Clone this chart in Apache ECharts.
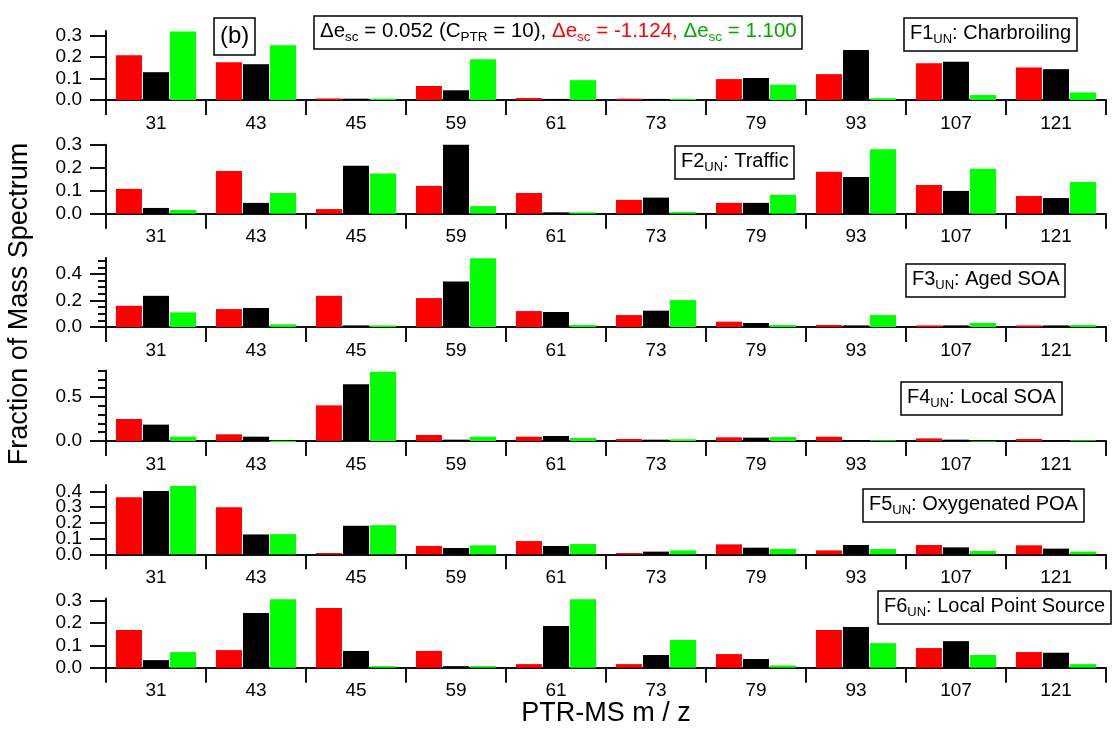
<!DOCTYPE html>
<html>
<head>
<meta charset="utf-8">
<script src="https://cdn.jsdelivr.net/npm/echarts@6/dist/echarts.min.js"></script>
<style>
html,body{margin:0;padding:0;background:#fff;}
#chart{width:1117px;height:730px;}
</style>
</head>
<body>
<div id="chart"></div>
<script>
// ---- data ----
const categories = ['31','43','45','59','61','73','79','93','107','121'];

const f1Red   = [0.208,0.175,0.007,0.065,0.009,0.006,0.097,0.120,0.171,0.151];
const f1Black = [0.129,0.166,0.006,0.045,0.005,0.005,0.102,0.232,0.177,0.143];
const f1Green = [0.318,0.254,0.006,0.189,0.092,0.005,0.071,0.008,0.023,0.035];

const f2Red   = [0.108,0.186,0.020,0.121,0.090,0.060,0.047,0.182,0.125,0.077];
const f2Black = [0.025,0.047,0.208,0.300,0.006,0.070,0.047,0.160,0.099,0.068];
const f2Green = [0.016,0.090,0.175,0.033,0.006,0.007,0.082,0.280,0.195,0.138];

const f3Red   = [0.160,0.135,0.235,0.218,0.120,0.090,0.040,0.015,0.012,0.012];
const f3Black = [0.235,0.143,0.012,0.343,0.113,0.123,0.030,0.012,0.012,0.012];
const f3Green = [0.110,0.020,0.012,0.518,0.015,0.203,0.015,0.090,0.030,0.015];

const f4Red   = [0.250,0.076,0.405,0.068,0.049,0.023,0.042,0.049,0.030,0.023];
const f4Black = [0.186,0.049,0.644,0.015,0.057,0.015,0.038,0.008,0.015,0.008];
const f4Green = [0.049,-0.012,0.788,0.049,0.034,0.019,0.045,0.008,-0.006,0.008];

const f5Red   = [0.362,0.299,0.008,0.053,0.084,0.008,0.063,0.025,0.059,0.057];
const f5Black = [0.402,0.126,0.181,0.040,0.053,0.017,0.042,0.059,0.044,0.036];
const f5Green = [0.434,0.128,0.185,0.057,0.065,0.025,0.034,0.034,0.021,0.017];

const f6Red   = [0.169,0.079,0.267,0.075,0.016,0.016,0.061,0.169,0.088,0.070];
const f6Black = [0.034,0.245,0.075,0.007,0.187,0.057,0.039,0.182,0.119,0.067];
const f6Green = [0.070,0.307,0.007,0.007,0.307,0.124,0.010,0.110,0.057,0.016];

// y tick labels (major) and minor tick values per panel
const f1Ticks = [0,0.1,0.2,0.3];
const f2Ticks = [0,0.1,0.2,0.3];
const f3Ticks = [0,0.2,0.4];
const f4Ticks = [0,0.5];
const f5Ticks = [0,0.1,0.2,0.3,0.4];
const f6Ticks = [0,0.1,0.2,0.3];
const f3Minor = [0.05,0.1,0.15,0.25,0.3,0.35,0.45,0.5];
const f4Minor = [0.1,0.2,0.3,0.4,0.6,0.7,0.8];

const yMax = [0.32,0.30,0.52,0.80,0.44,0.31];
const factorLabels = [
  '{n|F1}{s|UN}{n|: Charbroiling}',
  '{n|F2}{s|UN}{n|: Traffic}',
  '{n|F3}{s|UN}{n|: Aged SOA}',
  '{n|F4}{s|UN}{n|: Local SOA}',
  '{n|F5}{s|UN}{n|: Oxygenated POA}',
  '{n|F6}{s|UN}{n|: Local Point Source}'
];

// ---- layout ----
const FONT = 'Liberation Sans, Arial, sans-serif';
const panels = [
  {top:31,    height:69,   ticks:f1Ticks, minor:null,    red:f1Red, black:f1Black, green:f1Green, box:[904,15]},
  {top:144.7, height:69,   ticks:f2Ticks, minor:null,    red:f2Red, black:f2Black, green:f2Green, box:[675,143]},
  {top:258,   height:69,   ticks:f3Ticks, minor:f3Minor, red:f3Red, black:f3Black, green:f3Green, box:[906,261]},
  {top:370.6, height:70.4, ticks:f4Ticks, minor:f4Minor, red:f4Red, black:f4Black, green:f4Green, box:[901,379]},
  {top:485,   height:69.3, ticks:f5Ticks, minor:null,    red:f5Red, black:f5Black, green:f5Green, box:[863,486]},
  {top:598.5, height:69.2, ticks:f6Ticks, minor:null,    red:f6Red, black:f6Black, green:f6Green, box:[878,588]}
];

const axisColor = '#111';
const grids = [], xAxes = [], yAxes = [], series = [], titles = [];

const sub = (c, fs) => ({fontSize:fs || 13, fontFamily:FONT, fontWeight:'normal', color:c, lineHeight:12, verticalAlign:'bottom'});
const main = (c, fs) => ({fontSize:fs || 20, fontFamily:FONT, fontWeight:'normal', color:c, lineHeight:26});
const richBase = { n: main('#000'), s: sub('#000') };

const labelStyle = {fontSize:19, fontFamily:FONT, color:'#000', margin:24,
                    showMinLabel:true, showMaxLabel:true, hideOverlap:false,
                    formatter: v => v.toFixed(1)};

panels.forEach((p, i) => {
  grids.push({left:106, right:11, top:p.top, height:p.height});
  xAxes.push({
    type:'category', gridIndex:i, data:categories,
    axisLine:{show:true, lineStyle:{color:axisColor, width:2}},
    axisTick:{show:true, interval:0, length:15, lineStyle:{color:axisColor, width:2}},
    axisLabel:{interval:0, fontSize:19, fontFamily:FONT, color:'#000', margin:14},
    splitLine:{show:false}
  });
  // split major labels across two overlaid axes so none gets hidden by overlap handling
  const evenLabels = p.ticks.filter((v, k) => k % 2 === 0);
  const oddLabels  = p.ticks.filter((v, k) => k % 2 === 1);
  const yIdx = yAxes.length;
  yAxes.push({
    type:'value', gridIndex:i, min:0, max:yMax[i], position:'left',
    axisLine:{show:true, lineStyle:{color:axisColor, width:2}},
    axisTick:{show:true, length:16, customValues:p.ticks, lineStyle:{color:axisColor, width:2}},
    axisLabel:Object.assign({customValues:evenLabels}, labelStyle),
    splitLine:{show:false}
  });
  if (oddLabels.length) {
    yAxes.push({
      type:'value', gridIndex:i, min:0, max:yMax[i], position:'left', offset:0,
      axisLine:{show:false}, axisTick:{show:false},
      axisLabel:Object.assign({customValues:oddLabels}, labelStyle),
      splitLine:{show:false}
    });
  }
  if (p.minor) {
    yAxes.push({
      type:'value', gridIndex:i, min:0, max:yMax[i], position:'left', offset:0,
      axisLine:{show:false},
      axisTick:{show:true, length:8, customValues:p.minor, lineStyle:{color:axisColor, width:2}},
      axisLabel:{show:false},
      splitLine:{show:false}
    });
  }
  [['red','#ff0000'],['black','#000000'],['green','#00ff00']].forEach(([k,c]) => {
    series.push({
      type:'bar', xAxisIndex:i, yAxisIndex:yIdx, data:p[k],
      barWidth:26, barGap:'4%', clip:false, silent:true,
      itemStyle:{color:c}
    });
  });
  titles.push({
    text: factorLabels[i], left:p.box[0], top:p.box[1],
    padding:[5,6,5,6], borderColor:'#000', borderWidth:1.5, backgroundColor:'#fff',
    textStyle:{fontWeight:'normal', rich:richBase}
  });
});

titles.push({
  text:'{k|Δe}{ks|sc}{k| = 0.052 (C}{ks|PTR}{k| = 10), }{r|Δe}{rs|sc}{r| = -1.124, }{g|Δe}{gs|sc}{g| = 1.100}',
  left:314, top:13, padding:[5,6,5,6], borderColor:'#000', borderWidth:1.5, backgroundColor:'#fff',
  textStyle:{fontWeight:'normal', rich:{
    k:main('#000',20.5), ks:sub('#000',13.5),
    r:main('#ff0000',20.5), rs:sub('#ff0000',13.5),
    g:main('#00a800',20.5), gs:sub('#00a800',13.5)
  }}
});
titles.push({
  text:'(b)', left:214, top:18, padding:[4,6,4,6], borderColor:'#000', borderWidth:1.5,
  textStyle:{fontSize:24, fontFamily:FONT, fontWeight:'normal', color:'#000', lineHeight:29}
});

const chart = echarts.init(document.getElementById('chart'), null, {renderer:'canvas'});
chart.setOption({
  animation:false,
  backgroundColor:'#fff',
  title:titles,
  grid:grids,
  xAxis:xAxes,
  yAxis:yAxes,
  series:series,
  graphic:[
    {type:'text', x:20, y:304, rotation:Math.PI/2,
     style:{text:'Fraction of Mass Spectrum', fontSize:27, fontFamily:FONT, fill:'#000', align:'center', verticalAlign:'middle'}},
    {type:'text', x:606, y:714,
     style:{text:'PTR-MS m / z', fontSize:27, fontFamily:FONT, fill:'#000', align:'center', verticalAlign:'middle'}}
  ]
});
</script>
</body>
</html>
